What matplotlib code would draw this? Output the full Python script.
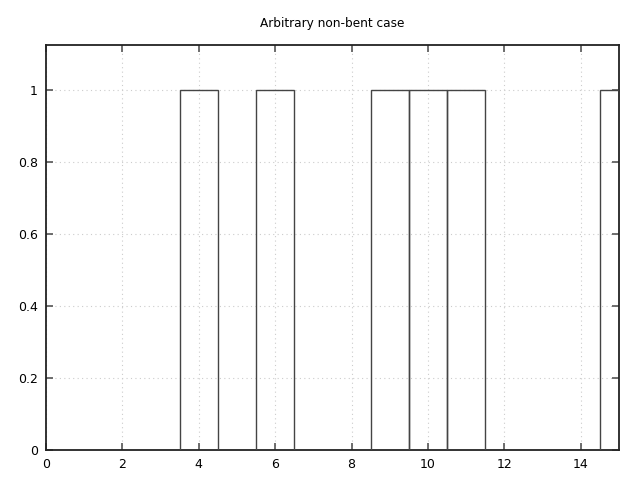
import matplotlib
matplotlib.use('Agg')
import matplotlib.pyplot as plt

x_vals = [0, 1, 2, 3, 4, 5, 6, 7, 8, 9, 10, 11, 12, 13, 14, 15]
y_vals = [0, 0, 0, 0, 1, 0, 1, 0, 0, 1, 1, 1, 0, 0, 0, 1]
x_ticks = [0, 2, 4, 6, 8, 10, 12, 14]
y_ticks = [0, 0.2, 0.4, 0.6, 0.8, 1]
y_tick_labels = ['0', '0.2', '0.4', '0.6', '0.8', '1']

fig = plt.figure(figsize=(6.4, 4.8), dpi=100)
ax = fig.add_axes([46 / 640, 30 / 480, 573 / 640, 405 / 480])

xs = [x for x, y in zip(x_vals, y_vals) if y > 0]
ys = [y for y in y_vals if y > 0]
ax.bar(xs, ys, width=1.0, fill=False, edgecolor='#444444', linewidth=1.0, zorder=3)

ax.set_xlim(0, 15)
ax.set_ylim(0, 1.125)
ax.set_xticks(x_ticks)
ax.set_xticklabels([str(t) for t in x_ticks])
ax.set_yticks(y_ticks)
ax.set_yticklabels(y_tick_labels)
ax.tick_params(direction='in', top=True, right=True, length=5, width=1.2,
               color='#555555', labelsize=9, pad=6)
ax.grid(True, linestyle=(0, (1, 3)), color='#cccccc', linewidth=0.8)
for s in ax.spines.values():
    s.set_linewidth(1.3)
    s.set_color('#222222')
ax.set_title('Arbitrary non-bent case', fontsize=8.7, pad=13)

fig.savefig('out.png', dpi=100)
